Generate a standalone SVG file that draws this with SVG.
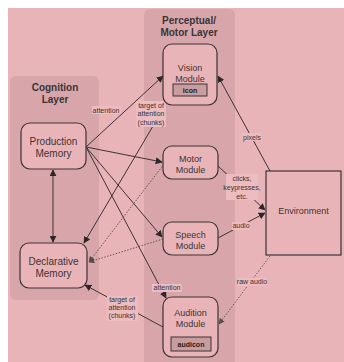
<svg xmlns="http://www.w3.org/2000/svg" width="344" height="362" viewBox="0 0 344 362">
<defs>
<style>
.bg{fill:#e8b4b8}
.panel{fill:#d8a6aa}
.node{fill:#e8b4b8;stroke:#3d3335;stroke-width:1.2}
.sub{fill:#c99ca0;stroke:#3d3335;stroke-width:1}
.t{font-family:"Liberation Sans",Arial,sans-serif;fill:#3a3436;text-anchor:middle}
.title{font-size:10px;font-weight:bold}
.mem{font-size:10px}
.mod{font-size:9px}
.lab{font-size:7px}
.sb{font-size:7px;font-weight:bold;fill:#222}
.lbg{fill:#ecbcc0}
.e{stroke:#3d3335;stroke-width:1;fill:none}
.d{stroke:#5a4a4c;stroke-width:0.9;fill:none;stroke-dasharray:1.5,1.5}
</style>
<marker id="ah" viewBox="0 0 10 10" refX="9" refY="5" markerWidth="7" markerHeight="7" orient="auto-start-reverse" markerUnits="userSpaceOnUse">
<path d="M0,0 L10,5 L0,10 z" fill="#2e2628"/>
</marker>
<marker id="ahd" viewBox="0 0 10 10" refX="9" refY="5" markerWidth="6" markerHeight="6" orient="auto" markerUnits="userSpaceOnUse">
<path d="M0,0 L10,5 L0,10 z" fill="#5a4a4c"/>
</marker>
</defs>
<rect x="8" y="8" width="336" height="354" class="bg"/>
<g id="cognition-layer">
<rect x="10" y="76" width="89" height="224" rx="6" class="panel"/>
<text class="t title" x="55" y="91">Cognition</text>
<text class="t title" x="55" y="103">Layer</text>
</g>
<g id="perceptual-motor-layer">
<rect x="144" y="9" width="91" height="360" rx="6" class="panel"/>
<text class="t title" x="189" y="24">Perceptual/</text>
<text class="t title" x="189" y="36">Motor Layer</text>
</g>
<g id="connectors">
<line class="e" x1="86" y1="147" x2="163" y2="76" marker-end="url(#ah)"/>
<line class="e" x1="166" y1="104" x2="84" y2="243" marker-end="url(#ah)"/>
<line class="e" x1="86" y1="147" x2="162" y2="162" marker-end="url(#ah)"/>
<line class="e" x1="86" y1="147" x2="162" y2="237" marker-end="url(#ah)"/>
<line class="e" x1="86" y1="147" x2="166" y2="298" marker-end="url(#ah)"/>
<line class="d" x1="164" y1="164" x2="89" y2="262" marker-end="url(#ahd)"/>
<line class="d" x1="163" y1="239" x2="89" y2="262" marker-end="url(#ahd)"/>
<line class="e" x1="163" y1="327" x2="85" y2="285" marker-end="url(#ah)"/>
<line class="e" x1="53" y1="170" x2="53" y2="242" marker-start="url(#ah)" marker-end="url(#ah)"/>
<line class="e" x1="270" y1="171" x2="218" y2="76" marker-end="url(#ah)"/>
<line class="e" x1="217" y1="165" x2="265" y2="210" marker-end="url(#ah)"/>
<line class="e" x1="218" y1="238" x2="265" y2="213" marker-end="url(#ah)"/>
<line class="d" x1="270" y1="256" x2="219" y2="324" marker-end="url(#ahd)"/>
<rect class="lbg" x="92" y="106" width="29" height="8"/>
<text class="t lab" x="106" y="113">attention</text>
<rect class="lbg" x="136" y="101" width="30" height="26"/>
<text class="t lab" x="151" y="108">target of</text>
<text class="t lab" x="151" y="116">attention</text>
<text class="t lab" x="151" y="125">(chunks)</text>
<rect class="lbg" x="242" y="133" width="20" height="8"/>
<text class="t lab" x="252" y="140">pixels</text>
<rect class="lbg" x="226" y="174" width="32" height="26"/>
<text class="t lab" x="242" y="181">clicks,</text>
<text class="t lab" x="242" y="190">keypresses,</text>
<text class="t lab" x="242" y="199">etc.</text>
<rect class="lbg" x="232" y="222" width="18" height="8"/>
<text class="t lab" x="241" y="228">audio</text>
<rect class="lbg" x="238" y="278" width="29" height="8"/>
<text class="t lab" x="252" y="284">raw audio</text>
<rect class="lbg" x="152" y="284" width="30" height="8"/>
<text class="t lab" x="167" y="290">attention</text>
<rect class="lbg" x="107" y="296" width="31" height="25"/>
<text class="t lab" x="122" y="302">target of</text>
<text class="t lab" x="122" y="310">attention</text>
<text class="t lab" x="122" y="318">(chunks)</text>
</g>
<g id="production-memory">
<rect class="node" x="21" y="123" width="65" height="46" rx="9"/>
<text class="t mem" x="53.5" y="145">Production</text>
<text class="t mem" x="53.5" y="157">Memory</text>
</g>
<g id="declarative-memory">
<rect class="node" x="20" y="243" width="67" height="45" rx="9"/>
<text class="t mem" x="53.5" y="265">Declarative</text>
<text class="t mem" x="53.5" y="277">Memory</text>
</g>
<g id="vision-module">
<rect class="node" x="163" y="44" width="54" height="61" rx="9"/>
<text class="t mod" x="190" y="71">Vision</text>
<text class="t mod" x="190" y="82">Module</text>
<rect class="sub" x="173" y="84" width="34" height="12"/>
<text class="t sb" x="190" y="93">icon</text>
</g>
<g id="motor-module">
<rect class="node" x="163" y="146" width="55" height="33" rx="9"/>
<text class="t mod" x="190.5" y="162">Motor</text>
<text class="t mod" x="190.5" y="173">Module</text>
</g>
<g id="speech-module">
<rect class="node" x="163" y="222" width="55" height="33" rx="9"/>
<text class="t mod" x="190.5" y="238">Speech</text>
<text class="t mod" x="190.5" y="249">Module</text>
</g>
<g id="audition-module">
<rect class="node" x="163" y="297" width="55" height="60" rx="9"/>
<text class="t mod" x="190.5" y="316">Audition</text>
<text class="t mod" x="190.5" y="327">Module</text>
<rect class="sub" x="171" y="337" width="40" height="14"/>
<text class="t sb" x="191" y="347">audicon</text>
</g>
<g id="environment">
<rect x="266" y="171" width="75" height="84" fill="#e8b4b8" stroke="#3d3335" stroke-width="1.2"/>
<text class="t mod" x="303.5" y="214">Environment</text>
</g>
</svg>
